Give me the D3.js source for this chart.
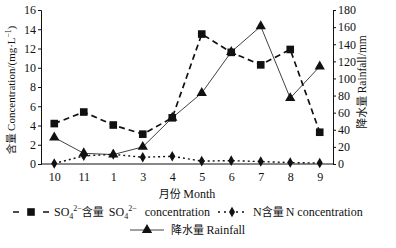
<!DOCTYPE html>
<html>
<head>
<meta charset="utf-8">
<script src="https://cdn.jsdelivr.net/npm/d3@7"></script>
<style>
  body { margin: 0; background: #fff; }
  text { font-family: "Liberation Serif", "Noto Sans CJK SC", serif; }
  .cjk { font-family: "Noto Sans CJK SC", sans-serif; }
</style>
</head>
<body>
<div class="chart"></div>
<script>
// months in sampling order
const months = ["10", "11", "1", "3", "4", "5", "6", "7", "8", "9"];
// SO4 2- concentration, mg/L
const so4 = [4.2, 5.4, 4.05, 3.1, 4.8, 13.5, 11.6, 10.3, 11.9, 3.3];
// N concentration, mg/L
const nConc = [0.05, 0.85, 1.0, 0.7, 0.8, 0.3, 0.35, 0.25, 0.15, 0.1];
// rainfall, mm
const rainfall = [31, 12.5, 11, 20, 54, 83, 131, 161, 77, 114];

const leftTicks = [0, 2, 4, 6, 8, 10, 12, 14, 16];
const rightTicks = [0, 20, 40, 60, 80, 100, 120, 140, 160, 180];

const width = 396, height = 248;
const margin = {top: 10, bottom: 84, left: 41, right: 63};

const svg = d3.select(".chart").append("svg")
  .attr("width", width).attr("height", height);

const x = d3.scalePoint()
  .domain(months)
  .range([margin.left, width - margin.right])
  .padding(0.45);

const yL = d3.scaleLinear().domain([0, 16]).range([height - margin.bottom, margin.top]);
const yR = d3.scaleLinear().domain([0, 180]).range([height - margin.bottom, margin.top]);

// axes
const xAxis = d3.axisBottom(x).tickSize(0).tickPadding(8);
const gx = svg.append("g").attr("transform", `translate(0, ${height - margin.bottom})`).call(xAxis);
gx.select(".domain").attr("d", `M${margin.left},0H${width - margin.right}`);

const gl = svg.append("g").attr("transform", `translate(${margin.left}, 0)`)
  .call(d3.axisLeft(yL).tickValues(leftTicks).tickSize(3).tickPadding(2));
const gr = svg.append("g").attr("transform", `translate(${width - margin.right}, 0)`)
  .call(d3.axisRight(yR).tickValues(rightTicks).tickSize(3).tickPadding(2));

[gx, gl, gr].forEach(g => {
  g.attr("font-family", "'Liberation Serif', serif");
  g.selectAll("text").attr("font-size", 12).attr("fill", "#111");
  g.selectAll("line, .domain").attr("stroke", "#111").attr("stroke-width", 1);
});

// series
const lineL = d3.line().x((d, i) => x(months[i])).y(d => yL(d));
const lineR = d3.line().x((d, i) => x(months[i])).y(d => yR(d));

svg.append("path").attr("d", lineR(rainfall))
  .attr("fill", "none").attr("stroke", "#111").attr("stroke-width", 0.8);

svg.append("path").attr("d", lineL(nConc))
  .attr("fill", "none").attr("stroke", "#111").attr("stroke-width", 1.4)
  .attr("stroke-dasharray", "2,3");

svg.append("path").attr("d", lineL(so4))
  .attr("fill", "none").attr("stroke", "#111").attr("stroke-width", 1.7)
  .attr("stroke-dasharray", "6,4");

const sqSym = d3.symbol().type(d3.symbolSquare).size(58);
const diaSym = d3.symbol().type(d3.symbolDiamond).size(32);
const triSym = d3.symbol().type(d3.symbolTriangle).size(46);

svg.append("g").selectAll("path").data(rainfall).join("path")
  .attr("d", triSym)
  .attr("transform", (d, i) => `translate(${x(months[i])}, ${yR(d)})`)
  .attr("fill", "#111");

svg.append("g").selectAll("path").data(nConc).join("path")
  .attr("d", diaSym)
  .attr("transform", (d, i) => `translate(${x(months[i])}, ${yL(d)})`)
  .attr("fill", "#111");

svg.append("g").selectAll("path").data(so4).join("path")
  .attr("d", sqSym)
  .attr("transform", (d, i) => `translate(${x(months[i])}, ${yL(d)})`)
  .attr("fill", "#111");

// axis titles
const leftTitle = svg.append("text")
  .attr("transform", `translate(15, 90) rotate(-90)`)
  .attr("text-anchor", "middle").attr("font-size", 11).attr("fill", "#111");
leftTitle.append("tspan").attr("class", "cjk").attr("font-size", 10.5).text("含量 ");
leftTitle.append("tspan").text("Concentration/(mg·L");
leftTitle.append("tspan").attr("dy", -4).attr("font-size", 7.5).text("−1");
leftTitle.append("tspan").attr("dy", 4).text(")");

const rightTitle = svg.append("text")
  .attr("transform", `translate(366, 82) rotate(-90)`)
  .attr("text-anchor", "middle").attr("font-size", 11.5).attr("fill", "#111");
rightTitle.append("tspan").attr("class", "cjk").attr("font-size", 11).text("降水量 ");
rightTitle.append("tspan").text("Rainfall/mm");

const xTitle = svg.append("text")
  .attr("x", (margin.left + width - margin.right) / 2).attr("y", 198)
  .attr("text-anchor", "middle").attr("font-size", 12).attr("fill", "#111");
xTitle.append("tspan").attr("class", "cjk").attr("font-size", 11).text("月份 ");
xTitle.append("tspan").text("Month");

// legend
const legend = svg.append("g");
const ly1 = 216, ly2 = 234;

legend.append("line").attr("x1", 13).attr("x2", 51).attr("y1", ly1 - 4).attr("y2", ly1 - 4)
  .attr("stroke", "#111").attr("stroke-width", 1.7).attr("stroke-dasharray", "6,9");
legend.append("path").attr("d", sqSym).attr("transform", `translate(31, ${ly1 - 4})`).attr("fill", "#111");
const t1 = legend.append("text").attr("x", 54).attr("y", ly1).attr("font-size", 12).attr("fill", "#111");
t1.append("tspan").text("SO");
t1.append("tspan").attr("dy", 3).attr("font-size", 8).text("4");
t1.append("tspan").attr("dy", -8).attr("font-size", 8).text("2−");
t1.append("tspan").attr("dy", 5).attr("class", "cjk").attr("font-size", 11).text("含量");
t1.append("tspan").attr("dx", 5).text("SO");
t1.append("tspan").attr("dy", 3).attr("font-size", 8).text("4");
t1.append("tspan").attr("dy", -8).attr("font-size", 8).text("2−");
t1.append("tspan").attr("dy", 5).attr("dx", 8).text("concentration");

legend.append("line").attr("x1", 218).attr("x2", 247).attr("y1", ly1 - 4).attr("y2", ly1 - 4)
  .attr("stroke", "#111").attr("stroke-width", 1.4).attr("stroke-dasharray", "2,4");
legend.append("path").attr("d", diaSym).attr("transform", `translate(232, ${ly1 - 4})`).attr("fill", "#111");
const t2 = legend.append("text").attr("x", 253).attr("y", ly1).attr("font-size", 12).attr("fill", "#111");
t2.append("tspan").text("N");
t2.append("tspan").attr("class", "cjk").attr("font-size", 11).text("含量");
t2.append("tspan").attr("dx", 2).text("N concentration");

legend.append("line").attr("x1", 130).attr("x2", 164).attr("y1", ly2 - 4).attr("y2", ly2 - 4)
  .attr("stroke", "#111").attr("stroke-width", 0.8);
legend.append("path").attr("d", triSym).attr("transform", `translate(147, ${ly2 - 4})`).attr("fill", "#111");
const t3 = legend.append("text").attr("x", 171).attr("y", ly2).attr("font-size", 12).attr("fill", "#111");
t3.append("tspan").attr("class", "cjk").attr("font-size", 11).text("降水量 ");
t3.append("tspan").text("Rainfall");
</script>
</body>
</html>
